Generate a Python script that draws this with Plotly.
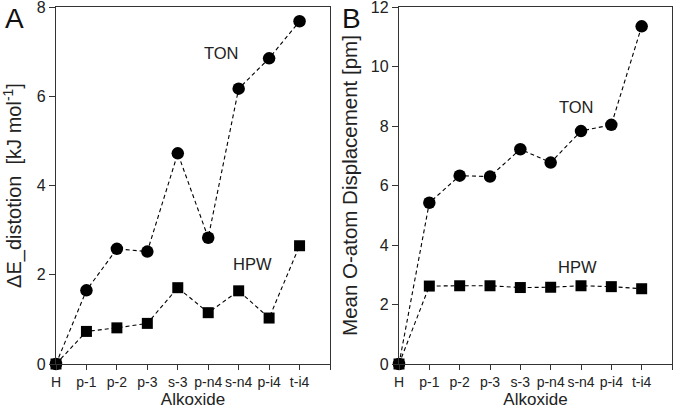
import plotly.graph_objects as go

categories = ["H", "p-1", "p-2", "p-3", "s-3", "p-n4", "s-n4", "p-i4", "t-i4"]
ton_energy = [0, 1.65, 2.58, 2.52, 4.72, 2.83, 6.17, 6.85, 7.68]
hpw_energy = [0, 0.73, 0.81, 0.91, 1.71, 1.15, 1.64, 1.03, 2.65]
ton_disp = [0, 5.42, 6.33, 6.30, 7.22, 6.77, 7.83, 8.04, 11.35]
hpw_disp = [0, 2.62, 2.63, 2.63, 2.57, 2.58, 2.63, 2.60, 2.53]
ytick_a = [0, 2, 4, 6, 8]
ytick_b = [0, 2, 4, 6, 8, 10, 12]

xpos = list(range(len(categories)))
FONT = "Arial, 'Liberation Sans', sans-serif"
W, H = 677, 409
ML, MR, MT, MB = 56, 5, 7, 45
PW, PH = W - ML - MR, H - MT - MB

def px_x(p):
    return (p - ML) / PW

def px_y(p):
    return (H - MB - p) / PH

fig = go.Figure()

def add_series(x, y, symbol, size, xa, ya):
    fig.add_trace(go.Scatter(
        x=x, y=y, mode="lines+markers", xaxis=xa, yaxis=ya,
        line=dict(color="black", width=1.1, dash="4px,3px"),
        marker=dict(symbol=symbol, size=size, color="black"),
        cliponaxis=False, showlegend=False))

add_series(xpos, ton_energy, "circle", 12.5, "x", "y")
add_series(xpos, hpw_energy, "square", 11, "x", "y")
add_series(xpos, ton_disp, "circle", 12.5, "x2", "y2")
add_series(xpos, hpw_disp, "square", 11, "x2", "y2")

tickvals = xpos + [len(categories)]
ticktext = categories + [""]

xcommon = dict(range=[0, 9], tickmode="array", tickvals=tickvals, ticktext=ticktext,
               ticks="outside", ticklen=5, tickwidth=1.3, tickcolor="#333",
               showline=True, linecolor="#333", linewidth=1.3, mirror=True,
               showgrid=False, zeroline=False, automargin=False, tickangle=0,
               tickfont=dict(family=FONT, size=14, color="#222"),
               title=dict(text="Alkoxide", font=dict(family=FONT, size=17, color="#222"), standoff=4))
ycommon = dict(ticks="outside", ticklen=6, tickwidth=1.3, tickcolor="#333",
               showline=True, linecolor="#333", linewidth=1.3, mirror=True,
               showgrid=False, zeroline=False, automargin=False,
               ticklabeloverflow="allow",
               tickfont=dict(family=FONT, size=16, color="#222"))

fig.update_layout(
    width=W, height=H,
    margin=dict(l=ML, r=MR, t=MT, b=MB),
    paper_bgcolor="white", plot_bgcolor="white",
    xaxis=dict(domain=[0, px_x(330)], anchor="y", **xcommon),
    yaxis=dict(domain=[0, 1], anchor="x", range=[0, 8], tickvals=ytick_a,
               title=dict(text="ΔE_distotion  [kJ mol<sup>-1</sup>]",
                          font=dict(family=FONT, size=20, color="#222"), standoff=17),
               **ycommon),
    xaxis2=dict(domain=[px_x(399), 1], anchor="y2", **xcommon),
    yaxis2=dict(domain=[0, 1], anchor="x2", range=[0, 12], tickvals=ytick_b,
                title=dict(text="Mean O-atom Displacement [pm]",
                           font=dict(family=FONT, size=20.5, color="#222"), standoff=7),
                **ycommon),
)

annots = [
    dict(text="TON", x=5.45, y=6.97, xref="x", yref="y"),
    dict(text="HPW", x=6.44, y=2.24, xref="x", yref="y"),
    dict(text="TON", x=5.86, y=8.64, xref="x2", yref="y2"),
    dict(text="HPW", x=5.89, y=3.26, xref="x2", yref="y2"),
]
for a in annots:
    fig.add_annotation(text=a["text"], x=a["x"], y=a["y"], xref=a["xref"], yref=a["yref"],
                       showarrow=False, font=dict(family=FONT, size=16.5, color="#222"))

for label, cx in (("A", 14), ("B", 351)):
    fig.add_annotation(text=label, x=px_x(cx), y=px_y(18), xref="paper", yref="paper",
                       xanchor="center", yanchor="middle", showarrow=False,
                       font=dict(family=FONT, size=28, color="#111"))

fig.write_html("out.html", config={"displayModeBar": False},
               post_script="document.body.style.margin='0';")
